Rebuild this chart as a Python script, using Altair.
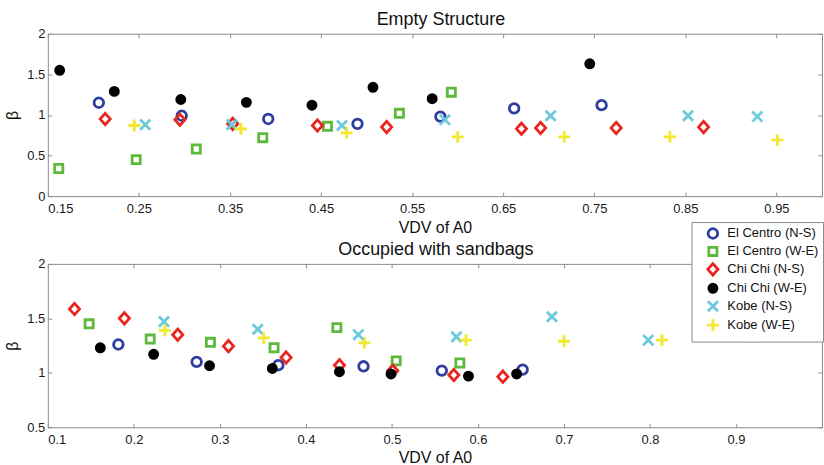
import altair as alt
import pandas as pd

FONT = "Liberation Sans"

series_names = [
    "El Centro (N-S)",
    "El Centro (W-E)",
    "Chi Chi (N-S)",
    "Chi Chi (W-E)",
    "Kobe (N-S)",
    "Kobe (W-E)",
]
series_colors = ["#2f3f9f", "#5db93c", "#e8261f", "#000000", "#6ccada", "#f1e92e"]
series_fills = ["transparent", "transparent", "transparent", "#000000", "transparent", "transparent"]
series_shapes = [
    "M-0.8,0A0.8,0.8,0,1,0,0.8,0A0.8,0.8,0,1,0,-0.8,0Z",   # open circle
    "M-0.68,-0.68L0.68,-0.68L0.68,0.68L-0.68,0.68Z",         # open square
    "M0,-0.95L0.85,0L0,0.95L-0.85,0Z",                       # open diamond
    "M-0.68,0A0.68,0.68,0,1,0,0.68,0A0.68,0.68,0,1,0,-0.68,0Z",  # dot
    "M-0.85,-0.85L0.85,0.85M-0.85,0.85L0.85,-0.85",          # x
    "M-1,0L1,0M0,-1L0,1",                                     # plus
]

# ---- Empty structure: VDV of A0 vs beta ----
empty_elcentro_ns_x = [0.206, 0.297, 0.392, 0.490, 0.581, 0.662, 0.758]
empty_elcentro_ns_y = [1.15, 0.99, 0.95, 0.89, 0.98, 1.08, 1.12]
empty_elcentro_we_x = [0.162, 0.247, 0.313, 0.386, 0.457, 0.536, 0.593]
empty_elcentro_we_y = [0.34, 0.45, 0.58, 0.72, 0.86, 1.02, 1.28]
empty_chichi_ns_x = [0.213, 0.295, 0.353, 0.446, 0.522, 0.670, 0.691, 0.774, 0.870]
empty_chichi_ns_y = [0.95, 0.94, 0.89, 0.87, 0.85, 0.83, 0.84, 0.84, 0.85]
empty_chichi_we_x = [0.163, 0.223, 0.296, 0.368, 0.440, 0.507, 0.572, 0.745]
empty_chichi_we_y = [1.55, 1.29, 1.19, 1.155, 1.12, 1.34, 1.20, 1.63]
empty_kobe_ns_x = [0.257, 0.352, 0.473, 0.586, 0.702, 0.853, 0.929]
empty_kobe_ns_y = [0.88, 0.88, 0.87, 0.94, 0.99, 0.99, 0.98]
empty_kobe_we_x = [0.245, 0.362, 0.478, 0.600, 0.717, 0.833, 0.951]
empty_kobe_we_y = [0.87, 0.83, 0.78, 0.73, 0.73, 0.73, 0.69]

# ---- Occupied with sandbags: VDV of A0 vs beta ----
occ_elcentro_ns_x = [0.182, 0.273, 0.368, 0.467, 0.558, 0.652]
occ_elcentro_ns_y = [1.26, 1.10, 1.07, 1.06, 1.02, 1.03]
occ_elcentro_we_x = [0.148, 0.219, 0.289, 0.363, 0.436, 0.505, 0.579]
occ_elcentro_we_y = [1.45, 1.31, 1.28, 1.23, 1.415, 1.11, 1.09]
occ_chichi_ns_x = [0.131, 0.189, 0.251, 0.310, 0.377, 0.439, 0.501, 0.572, 0.629]
occ_chichi_ns_y = [1.585, 1.50, 1.35, 1.245, 1.14, 1.07, 1.02, 0.98, 0.965]
occ_chichi_we_x = [0.161, 0.223, 0.288, 0.361, 0.439, 0.499, 0.589, 0.645]
occ_chichi_we_y = [1.23, 1.17, 1.065, 1.04, 1.01, 0.99, 0.97, 0.99]
occ_kobe_ns_x = [0.235, 0.344, 0.461, 0.575, 0.686, 0.798, 0.920]
occ_kobe_ns_y = [1.47, 1.40, 1.35, 1.33, 1.515, 1.30, 1.33]
occ_kobe_we_x = [0.236, 0.351, 0.468, 0.586, 0.700, 0.814, 0.928]
occ_kobe_we_y = [1.39, 1.32, 1.275, 1.30, 1.29, 1.30, 1.33]

empty_series = [
    (empty_elcentro_ns_x, empty_elcentro_ns_y),
    (empty_elcentro_we_x, empty_elcentro_we_y),
    (empty_chichi_ns_x, empty_chichi_ns_y),
    (empty_chichi_we_x, empty_chichi_we_y),
    (empty_kobe_ns_x, empty_kobe_ns_y),
    (empty_kobe_we_x, empty_kobe_we_y),
]
occ_series = [
    (occ_elcentro_ns_x, occ_elcentro_ns_y),
    (occ_elcentro_we_x, occ_elcentro_we_y),
    (occ_chichi_ns_x, occ_chichi_ns_y),
    (occ_chichi_we_x, occ_chichi_we_y),
    (occ_kobe_ns_x, occ_kobe_ns_y),
    (occ_kobe_we_x, occ_kobe_we_y),
]


def to_frame(series):
    rows = []
    for name, (xs, ys) in zip(series_names, series):
        for x, y in zip(xs, ys):
            rows.append({"series": name, "vdv": x, "beta": y})
    return pd.DataFrame(rows)


GRAY = "#8c8c8c"
PLOT_W = 777
TICK_FMT = ".2~f"

legend_style = dict(
    title=None,
    labelFont=FONT, labelFontSize=13, labelColor="#111111", labelOffset=7,
    symbolOffset=10, symbolSize=144, symbolStrokeWidth=2.8,
    rowPadding=-8, padding=4,
    fillColor="white", strokeColor=GRAY,
)


def panel(df, title, title_dx, x_title_pad, x_domain, x_ticks,
          y_domain, y_ticks, height):
    x_scale = alt.Scale(domain=x_domain, nice=False, zero=False)
    y_scale = alt.Scale(domain=y_domain, nice=False, zero=False)

    points = alt.Chart(df).mark_point(
        size=144, strokeWidth=2.8, opacity=1, filled=False
    ).encode(
        x=alt.X(
            "vdv:Q", scale=x_scale,
            axis=alt.Axis(values=x_ticks, format=TICK_FMT, title="VDV of A0",
                          orient="bottom", offset=-4, tickSize=4, domain=False,
                          labelPadding=6, titlePadding=x_title_pad),
        ),
        y=alt.Y(
            "beta:Q", scale=y_scale,
            axis=alt.Axis(values=y_ticks, format=TICK_FMT, title="β",
                          orient="left", offset=-4, tickSize=4, domain=False,
                          labelPadding=3, titlePadding=6),
        ),
        stroke=alt.Stroke("series:N", scale=alt.Scale(domain=series_names, range=series_colors),
                          legend=alt.Legend(**legend_style)),
        fill=alt.Fill("series:N", scale=alt.Scale(domain=series_names, range=series_fills),
                      legend=alt.Legend(**legend_style)),
        shape=alt.Shape("series:N", scale=alt.Scale(domain=series_names, range=series_shapes),
                        legend=alt.Legend(**legend_style)),
    )

    # inward tick marks along the top and right edges of the box
    box_ticks = alt.Chart(df).mark_point(opacity=0).encode(
        x=alt.X("vdv:Q", scale=x_scale,
                axis=alt.Axis(values=x_ticks, orient="top", labels=False, title="",
                              offset=-4, tickSize=4, domain=False)),
        y=alt.Y("beta:Q", scale=y_scale,
                axis=alt.Axis(values=y_ticks, orient="right", labels=False, title="",
                              offset=-4, tickSize=4, domain=False)),
    )

    return alt.layer(points, box_ticks).resolve_axis(
        x="independent", y="independent"
    ).properties(
        width=PLOT_W,
        height=height,
        title=alt.TitleParams(title, dx=title_dx),
    )


top = panel(
    to_frame(empty_series), "Empty Structure", 6, 4,
    [0.15, 1.0], [0.15, 0.25, 0.35, 0.45, 0.55, 0.65, 0.75, 0.85, 0.95],
    [0, 2], [0, 0.5, 1, 1.5, 2], 163,
)
bottom = panel(
    to_frame(occ_series), "Occupied with sandbags", 1, 3,
    [0.1, 1.0], [0.1, 0.2, 0.3, 0.4, 0.5, 0.6, 0.7, 0.8, 0.9],
    [0.5, 2], [0.5, 1, 1.5, 2], 164,
)

chart = alt.vconcat(top, bottom, spacing=4).resolve_scale(
    x="independent", y="independent"
).properties(
    padding={"left": 4, "top": 9, "right": 0, "bottom": 0},
    background="white",
).configure_view(
    stroke=GRAY, strokeWidth=1
).configure_axis(
    labelFont=FONT, labelFontSize=13, labelColor="#1a1a1a",
    titleFont=FONT, titleFontSize=16, titleFontWeight="normal", titleColor="#111111",
    tickColor=GRAY, grid=False,
).configure_title(
    font=FONT, fontSize=18, fontWeight="normal", color="#111111", offset=-1,
).configure_legend(
    orient="none", legendX=646, legendY=189,
)

chart.save("out.html", embed_options={"renderer": "svg", "actions": False})
